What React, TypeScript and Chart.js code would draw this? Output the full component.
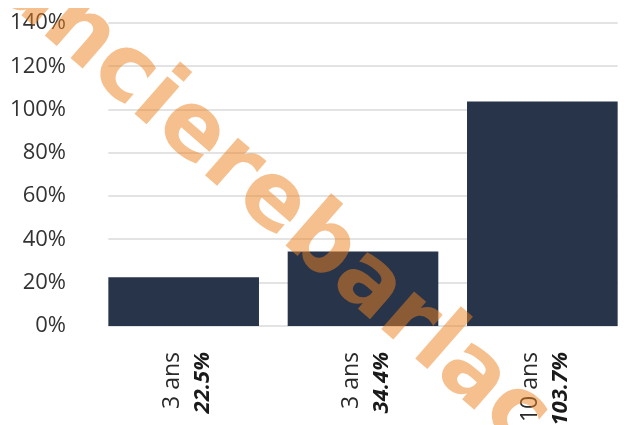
import { useEffect, useRef } from "react";
import { Chart, registerables } from "chart.js";

Chart.register(...registerables);

const categories = ["3 ans", "3 ans", "10 ans"];
const values = [22.5, 34.4, 103.7];
const valueLabels = ["22.5%", "34.4%", "103.7%"];
const yMin = 0;
const yMax = 140;
const yStep = 20;
const watermark = "financierebarlac";

const BAR_COLOR = "#28344a";
const GRID_COLOR = "#e3e3e3";
const FONT = '"Open Sans", "DejaVu Sans", sans-serif';

const gridPlugin = {
  id: "customGrid",
  beforeDatasetsDraw(chart: any) {
    const ctx = chart.ctx;
    const y = chart.scales.y;
    const meta = chart.getDatasetMeta(0);
    const first = meta.data[0] as any;
    const last = meta.data[meta.data.length - 1] as any;
    const x0 = first.x - first.width / 2;
    const x1 = last.x + last.width / 2;
    ctx.save();
    ctx.strokeStyle = GRID_COLOR;
    ctx.lineWidth = 2;
    y.ticks.forEach((t: any) => {
      const py = Math.round(y.getPixelForValue(t.value));
      ctx.beginPath();
      ctx.moveTo(x0, py);
      ctx.lineTo(x1, py);
      ctx.stroke();
    });
    ctx.restore();
  },
};

const xLabelPlugin = {
  id: "xLabels",
  afterDatasetsDraw(chart: any) {
    const ctx = chart.ctx;
    const x = chart.scales.x;
    const top = chart.chartArea.bottom + 26;
    ctx.save();
    categories.forEach((cat, i) => {
      const cx = x.getPixelForValue(i);
      ctx.save();
      ctx.translate(cx - 5, top);
      ctx.rotate(-Math.PI / 2);
      ctx.textAlign = "right";
      ctx.textBaseline = "alphabetic";
      ctx.fillStyle = "#2a2a2a";
      ctx.font = `23px ${FONT}`;
      ctx.fillText(cat, 0, 0);
      ctx.restore();
      ctx.save();
      ctx.translate(cx + 25, top);
      ctx.rotate(-Math.PI / 2);
      ctx.textAlign = "right";
      ctx.textBaseline = "alphabetic";
      ctx.fillStyle = "#1a1a1a";
      ctx.font = `italic bold 22px ${FONT}`;
      ctx.fillText(valueLabels[i], 0, 0);
      ctx.restore();
    });
    ctx.restore();
  },
};

const watermarkPlugin = {
  id: "watermark",
  afterDraw(chart: any) {
    const ctx = chart.ctx;
    const family = '"DejaVu Sans", sans-serif';
    ctx.save();
    ctx.font = `bold 100px ${family}`;
    const centerAt = (idx: number) =>
      ctx.measureText(watermark.slice(0, idx)).width +
      ctx.measureText(watermark[idx]).width / 2;
    const ax = 72, ay = 25, bx = 313, by = 235;
    const dist = Math.hypot(bx - ax, by - ay);
    const theta = Math.atan2(by - ay, bx - ax);
    const d100 = centerAt(10) - centerAt(4);
    const fs = (100 * dist) / d100;
    ctx.font = `bold ${fs}px ${family}`;
    const p4 = centerAt(4);
    const xh = fs * 0.55;
    const c = Math.cos(theta), s = Math.sin(theta);
    const blx = ax - (xh / 2) * s;
    const bly = ay + (xh / 2) * c;
    const sx = blx - p4 * c;
    const sy = bly - p4 * s;
    ctx.translate(sx, sy);
    ctx.rotate(theta);
    ctx.textAlign = "left";
    ctx.textBaseline = "alphabetic";
    ctx.fillStyle = "rgba(235,130,30,0.5)";
    ctx.fillText(watermark, 0, 0);
    ctx.restore();
  },
};

export default function App() {
  const ref = useRef<HTMLCanvasElement | null>(null);
  useEffect(() => {
    if (!ref.current) return;
    const chart = new Chart(ref.current, {
      type: "bar",
      data: {
        labels: categories,
        datasets: [
          {
            data: values,
            backgroundColor: BAR_COLOR,
            borderWidth: 0,
            barPercentage: 0.84,
            categoryPercentage: 1,
          },
        ],
      },
      options: {
        responsive: true,
        maintainAspectRatio: false,
        animation: false,
        layout: { padding: { top: 15, right: 16, left: 0, bottom: 0 } },
        plugins: {
          legend: { display: false },
          tooltip: { enabled: false },
        },
        scales: {
          x: {
            grid: { display: false, drawTicks: false },
            border: { display: false },
            ticks: { display: false },
            afterFit: (s: any) => {
              s.height = 99;
            },
          },
          y: {
            min: yMin,
            max: yMax,
            grid: { display: false, drawTicks: false },
            border: { display: false },
            ticks: {
              stepSize: yStep,
              padding: 28,
              color: "#333333",
              font: { family: FONT, size: 22 },
              callback: (v: any) => `${v}%`,
            },
            afterFit: (s: any) => {
              s.width = 86;
              s.paddingTop = 0;
              s.paddingBottom = 0;
            },
          },
        },
      },
      plugins: [gridPlugin, xLabelPlugin, watermarkPlugin],
    });
    return () => chart.destroy();
  }, []);
  return (
    <div style={{ width: 611, height: 417, overflow: "hidden" }}>
      <div style={{ width: 640, height: 417, position: "relative" }}>
        <canvas ref={ref} />
      </div>
    </div>
  );
}
